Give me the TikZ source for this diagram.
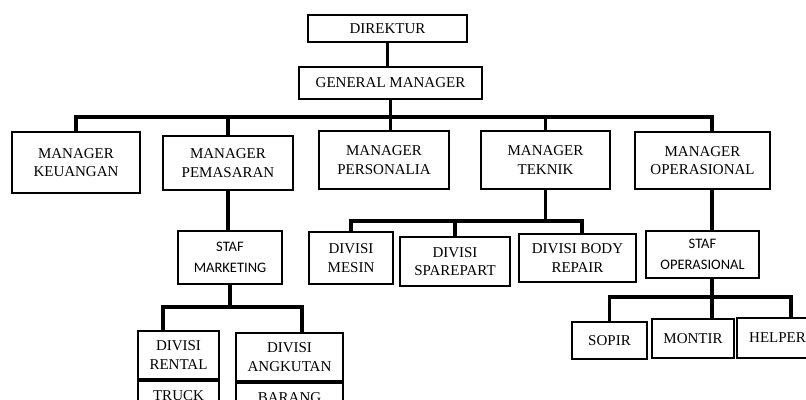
\documentclass[tikz,border=0pt]{standalone}
\usepackage{fontspec}
\setmainfont{Liberation Serif}
\newfontfamily\carlito{Carlito}
\usepackage{tikz}

\begin{document}
\begin{tikzpicture}[
  x=1pt, y=-1pt,
  box/.style={draw, line width=1.8pt, inner sep=0pt, align=center,
    font=\fontsize{15}{18.5}\selectfont},
  staf/.style={box, font=\carlito\fontsize{14.5}{21}\selectfont},
  conn/.style={line width=3.2pt}
]
\useasboundingbox (0,0) rectangle (806,399);
\clip (0,0) rectangle (806,399);

\node[box, minimum width=159pt, minimum height=27pt] (dir) at (387.5,28.5) {DIREKTUR};
\node[box, minimum width=183pt, minimum height=32pt] (gm) at (390.5,83) {GENERAL MANAGER};

\node[box, minimum width=128pt, minimum height=61pt] (keu) at (76,162.5) {MANAGER\\KEUANGAN};
\node[box, minimum width=130pt, minimum height=54pt] (pem) at (228,163) {MANAGER\\PEMASARAN};
\node[box, minimum width=130pt, minimum height=58pt] (pers) at (384,160) {MANAGER\\PERSONALIA};
\node[box, minimum width=129pt, minimum height=58pt] (tek) at (545.5,160) {MANAGER\\TEKNIK};
\node[box, minimum width=135pt, minimum height=57pt] (ops) at (702.5,160.5) {MANAGER\\OPERASIONAL};

\node[staf, minimum width=104pt, minimum height=53pt] (smk) at (230,257.5) {STAF\\MARKETING};
\node[box, minimum width=84pt, minimum height=52pt] (mes) at (351,258) {DIVISI\\MESIN};
\node[box, minimum width=110pt, minimum height=49pt] (spa) at (455,261.5) {DIVISI\\SPAREPART};
\node[box, minimum width=117pt, minimum height=48pt] (bod) at (577.5,258) {DIVISI BODY\\REPAIR};
\node[staf, minimum width=113pt, minimum height=47pt] (sop) at (702.5,254.5) {STAF\\OPERASIONAL};

\node[box, minimum width=81pt, minimum height=48pt] (ren) at (178.5,355) {DIVISI\\RENTAL};
\node[box, minimum width=81pt, minimum height=30pt, anchor=north] (trk) at (ren.south) {TRUCK};
\node[box, minimum width=107pt, minimum height=48pt] (ang) at (289.5,357) {DIVISI\\ANGKUTAN};
\node[box, minimum width=107pt, minimum height=30pt, anchor=north] (brg) at (ang.south) {BARANG};

\node[box, minimum width=75pt, minimum height=37pt] (spr) at (609.5,340.5) {SOPIR};
\node[box, minimum width=82pt, minimum height=39pt] (mon) at (693,338.5) {MONTIR};
\node[box, minimum width=81pt, minimum height=40pt] (hlp) at (777.5,338) {HELPER};

% bus lines
\coordinate (bus1) at (0,117);
\coordinate (bus2) at (0,221);
\coordinate (bus3) at (0,307);
\coordinate (bus4) at (0,297);

\draw[conn] (dir.south) -- (dir.south |- gm.north);
\draw[conn] (gm.south) -- (gm.south |- pers.north);
\draw[conn] (keu.north) |- ([xshift=9.5pt]ops.north |- bus1) -- ([xshift=9.5pt]ops.north);
\foreach \m in {pem,tek}
  \draw[conn] (\m.north) -- (\m.north |- bus1);

\draw[conn] (pem.south) -- (pem.south |- smk.north);
\draw[conn] (smk.south) -- (smk.south |- bus3);
\draw[conn] ([xshift=-15.5pt]ren.north) |- ([xshift=12.5pt]ang.north |- bus3)
  -- ([xshift=12.5pt]ang.north);

\draw[conn] (tek.south) -- (tek.south |- bus2);
\draw[conn] (mes.north) |- ([xshift=4.5pt]bod.north |- bus2) -- ([xshift=4.5pt]bod.north);
\draw[conn] (spa.north) -- (spa.north |- bus2);

\draw[conn] ([xshift=9.5pt]ops.south) -- ([xshift=9.5pt]ops.south |- sop.north);
\draw[conn] ([xshift=9.5pt]sop.south) -- ([xshift=9.5pt]sop.south |- mon.north);
\draw[conn] (spr.north) |- ([xshift=13.5pt]hlp.north |- bus4) -- ([xshift=13.5pt]hlp.north);
\end{tikzpicture}
\end{document}
